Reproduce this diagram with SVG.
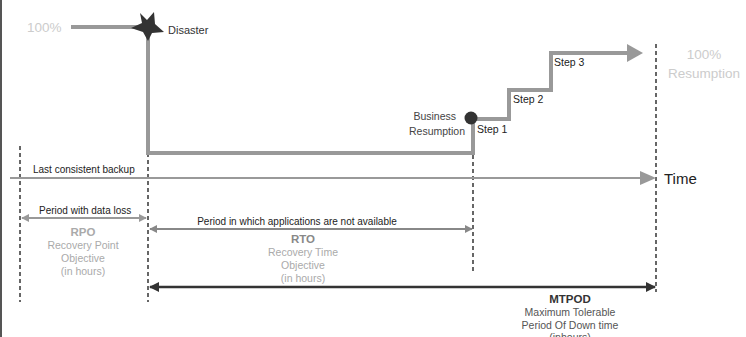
<svg xmlns="http://www.w3.org/2000/svg" width="746" height="337" viewBox="0 0 746 337">
<defs>
<style>
text{font-family:"Liberation Sans","DejaVu Sans",sans-serif;}
.lbl{font-size:10.5px;fill:#222;}
.lt{font-size:13.5px;fill:#ccc;}
.sub{font-size:10.5px;fill:#aaa;text-anchor:middle;}
.subd{font-size:10.5px;fill:#555;text-anchor:middle;}
.dash{stroke:#666;stroke-width:2;stroke-dasharray:4,3;fill:none;}
.thick{stroke:#999;stroke-width:4;fill:none;}
</style>
<marker id="ag" viewBox="0 0 10 10" refX="9" refY="5" markerWidth="4" markerHeight="4" orient="auto-start-reverse"><path d="M0,0L10,5L0,10Z" fill="#999"/></marker>
<marker id="am" viewBox="0 0 10 10" refX="9" refY="5" markerWidth="4" markerHeight="4" orient="auto-start-reverse"><path d="M0,0L10,5L0,10Z" fill="#888"/></marker>
<marker id="ad" viewBox="0 0 10 10" refX="9" refY="5" markerWidth="4" markerHeight="4" orient="auto-start-reverse"><path d="M0,0L10,5L0,10Z" fill="#333"/></marker>
</defs>
<rect x="0" y="0" width="746" height="337" fill="#fff"/>
<line x1="1" y1="0" x2="1" y2="337" stroke="#555" stroke-width="2"/>
<g id="connectors">
<line class="dash" x1="20" y1="146" x2="20" y2="302"/>
<line class="dash" x1="148" y1="146" x2="148" y2="302"/>
<line class="dash" x1="473" y1="155" x2="473" y2="273"/>
<line class="dash" x1="656" y1="44" x2="656" y2="292"/>
<path class="thick" d="M71,27H148V153H473V119H509V90H551V53H630"/>
<path d="M627,44L643,53L627,62Z" fill="#999"/>
<line x1="10" y1="178" x2="645" y2="178" stroke="#999" stroke-width="2"/>
<path d="M640,171L656,178L640,185Z" fill="#999"/>
<line x1="22" y1="218" x2="146" y2="218" stroke="#999" stroke-width="2" marker-start="url(#ag)" marker-end="url(#ag)"/>
<line x1="150" y1="229" x2="472" y2="229" stroke="#888" stroke-width="2" marker-start="url(#am)" marker-end="url(#am)"/>
<line x1="150" y1="287" x2="655" y2="287" stroke="#333" stroke-width="2.5" marker-start="url(#ad)" marker-end="url(#ad)"/>
</g>
<g id="start"><text class="lt" x="27" y="32">100%</text></g>
<g id="disaster">
<polygon points="140,13 147,20 154,12 155,24 164,32 152,33 148,41 143,32 131,28 142,23" fill="#333"/>
<text x="168" y="34" style="font-size:11px;fill:#333">Disaster</text>
</g>
<g id="business">
<circle cx="471" cy="118" r="6.5" fill="#333"/>
<text class="lbl" x="456" y="120" text-anchor="end" style="fill:#444">Business</text>
<text class="lbl" x="465" y="135" text-anchor="end" style="fill:#444">Resumption</text>
</g>
<g id="steps">
<text class="lbl" x="477" y="133">Step 1</text>
<text class="lbl" x="513" y="103">Step 2</text>
<text class="lbl" x="554" y="66">Step 3</text>
</g>
<g id="resumption">
<text class="lt" x="704" y="59" text-anchor="middle">100%</text>
<text class="lt" x="704" y="78" text-anchor="middle">Resumption</text>
</g>
<g id="time"><text x="664" y="184" style="font-size:15px;fill:#222">Time</text></g>
<g id="backup"><text class="lbl" x="33" y="173" style="font-size:10px">Last consistent backup</text></g>
<g id="rpo">
<text class="lbl" x="39" y="214" style="font-size:10px">Period with data loss</text>
<text class="sub" x="83" y="236" style="font-weight:bold;font-size:11.5px">RPO</text>
<text class="sub" x="83" y="249">Recovery Point</text>
<text class="sub" x="83" y="262">Objective</text>
<text class="sub" x="83" y="275">(in hours)</text>
</g>
<g id="rto">
<text class="lbl" x="297" y="225" text-anchor="middle" style="font-size:10px">Period in which applications are not available</text>
<text class="sub" x="303" y="243" style="font-weight:bold;font-size:11.5px;fill:#888">RTO</text>
<text class="sub" x="303" y="256">Recovery Time</text>
<text class="sub" x="303" y="269">Objective</text>
<text class="sub" x="303" y="282">(in hours)</text>
</g>
<g id="mtpod">
<text class="subd" x="570" y="303" style="font-weight:bold;font-size:11.5px;fill:#333">MTPOD</text>
<text class="subd" x="570" y="316">Maximum Tolerable</text>
<text class="subd" x="570" y="329">Period Of Down time</text>
<text class="subd" x="570" y="341">(inhours)</text>
</g>
</svg>
